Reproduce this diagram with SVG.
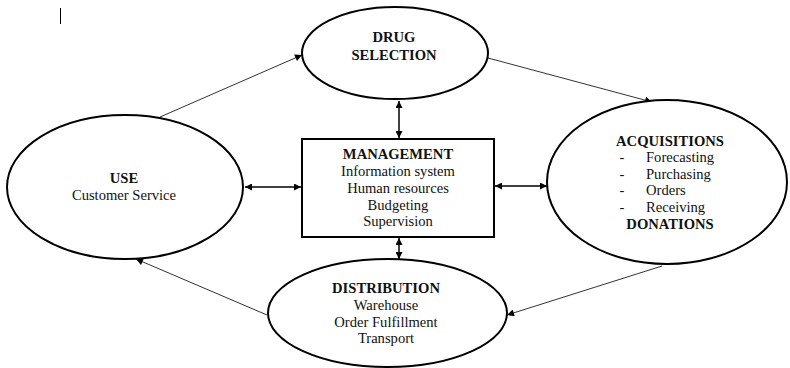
<svg xmlns="http://www.w3.org/2000/svg" width="790" height="368" viewBox="0 0 790 368">
<defs>
<marker id="ah" viewBox="0 0 10 10" refX="10" refY="5" markerWidth="8" markerHeight="7" markerUnits="userSpaceOnUse" orient="auto-start-reverse">
<path d="M0,0 L10,5 L0,10 z" fill="#000"/>
</marker>
<style>
.shape{fill:#fff;stroke:#000;stroke-width:2}
.t{font-family:"Liberation Serif","Times New Roman",serif;font-size:14.6px;fill:#111;text-anchor:middle}
.b{font-weight:bold}
.flow{stroke:#333;stroke-width:1;fill:none;marker-end:url(#ah)}
.dbl{stroke:#000;stroke-width:1.5;fill:none;marker-start:url(#ah);marker-end:url(#ah)}
</style>
</defs>
<rect width="790" height="368" fill="#fff"/>
<line x1="60.5" y1="8" x2="60.5" y2="24" stroke="#000" stroke-width="1"/>
<g id="connectors">
<line class="flow" x1="160" y1="117" x2="302" y2="55"/>
<line class="flow" x1="488" y1="58" x2="652" y2="102"/>
<line class="flow" x1="662" y1="266" x2="507" y2="315"/>
<line class="flow" x1="267" y1="315" x2="136" y2="259"/>
<line class="dbl" x1="399" y1="101" x2="399" y2="138"/>
<line class="dbl" x1="399" y1="238" x2="399" y2="259"/>
<line class="dbl" x1="245" y1="187" x2="301" y2="187"/>
<line class="dbl" x1="495" y1="186" x2="547" y2="186"/>
</g>
<g id="drug-selection">
<ellipse class="shape" cx="395" cy="53" rx="93" ry="46"/>
<text class="t b" x="394" y="42">DRUG</text>
<text class="t b" x="394" y="60">SELECTION</text>
</g>
<g id="use">
<ellipse class="shape" cx="125" cy="187" rx="118" ry="72"/>
<text class="t b" x="124" y="183">USE</text>
<text class="t" x="124" y="200">Customer Service</text>
</g>
<g id="management">
<rect class="shape" x="302" y="139" width="192" height="98"/>
<text class="t b" x="398" y="159">MANAGEMENT</text>
<text class="t" x="398" y="176">Information system</text>
<text class="t" x="398" y="193">Human resources</text>
<text class="t" x="398" y="210">Budgeting</text>
<text class="t" x="398" y="226">Supervision</text>
</g>
<g id="acquisitions">
<ellipse class="shape" cx="667" cy="182" rx="120" ry="82"/>
<text class="t b" x="670" y="146">ACQUISITIONS</text>
<text class="t" x="622" y="162">-</text>
<text class="t" x="622" y="179">-</text>
<text class="t" x="622" y="195">-</text>
<text class="t" x="622" y="212">-</text>
<text class="t" x="646" y="162" style="text-anchor:start">Forecasting</text>
<text class="t" x="646" y="179" style="text-anchor:start">Purchasing</text>
<text class="t" x="646" y="195" style="text-anchor:start">Orders</text>
<text class="t" x="646" y="212" style="text-anchor:start">Receiving</text>
<text class="t b" x="670" y="229">DONATIONS</text>
</g>
<g id="distribution">
<ellipse class="shape" cx="387.5" cy="313" rx="119.5" ry="54"/>
<text class="t b" x="386" y="293">DISTRIBUTION</text>
<text class="t" x="386" y="310">Warehouse</text>
<text class="t" x="386" y="327">Order Fulfillment</text>
<text class="t" x="386" y="343">Transport</text>
</g>
</svg>
